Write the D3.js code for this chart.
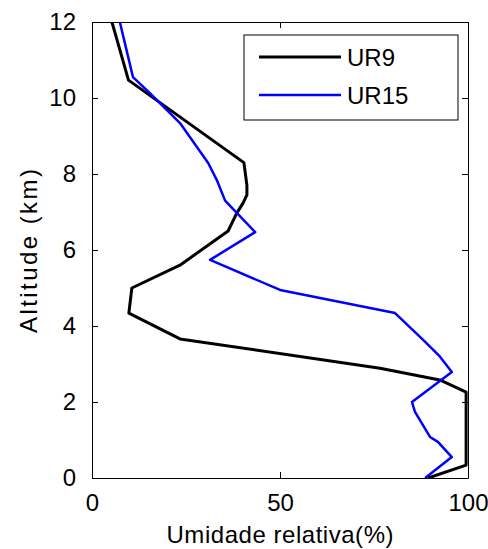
<!DOCTYPE html>
<html>
<head>
<meta charset="utf-8">
<script src="https://cdn.jsdelivr.net/npm/d3@7"></script>
<style>
  body { margin: 0; background: #fff; }
  text { font-family: "Liberation Sans", Arial, sans-serif; fill: #000; }
</style>
</head>
<body>
<div id="chart"></div>
<script>
var width = 488,
    height = 549;
var margin = {top: 22, right: 20, bottom: 71, left: 92};

// data: [umidade %, altitude km]
var seriesNames = ["UR9", "UR15"];
var seriesColors = ["#000000", "#0000ff"];
var ur9 = [[5.3, 12], [9.7, 10.47], [40.4, 8.3], [41.2, 7.7], [41.2, 7.45], [40.2, 7.24],
    [38.5, 6.97], [36.2, 6.5], [23.4, 5.6], [10.6, 5.0], [9.8, 4.34], [23.4, 3.66],
    [76.6, 2.89], [92.5, 2.58], [99.5, 2.26], [99.5, 0.34], [89.4, 0]];
var ur15 = [[7.4, 12], [10.9, 10.55], [15.4, 10.13], [23.4, 9.34], [30.9, 8.29], [33.2, 7.84],
    [35.4, 7.3], [43.4, 6.47], [31.4, 5.74], [50, 4.95], [80.6, 4.34], [88, 3.64],
    [92.5, 3.2], [95.7, 2.79], [85.1, 2.0], [85.9, 1.74], [89.9, 1.08], [92, 0.95],
    [95.7, 0.55], [88.6, 0]];
var xTicks = [0, 50, 100];
var yTicks = [0, 2, 4, 6, 8, 10, 12];

var svg = d3.select("#chart")
    .append("svg")
    .attr("width", width)
    .attr("height", height);

var x = d3.scaleLinear().domain([0, 100]).range([margin.left, width - margin.right]);
var y = d3.scaleLinear().domain([0, 12]).range([height - margin.bottom, margin.top]);

var tickLen = 6;

// lines (clipped to plot box)
svg.append("clipPath").attr("id", "clip")
    .append("rect")
    .attr("x", x(0)).attr("y", y(12))
    .attr("width", x(100) - x(0)).attr("height", y(0) - y(12));

var line = d3.line()
    .x(function(d) { return x(d[0]); })
    .y(function(d) { return y(d[1]); });

var series = [ur9, ur15];
series.forEach(function(s, i) {
    svg.append("path")
        .datum(s)
        .attr("clip-path", "url(#clip)")
        .attr("d", line)
        .attr("fill", "none")
        .attr("stroke", seriesColors[i])
        .attr("stroke-width", i == 0 ? 3 : 2.5)
        .attr("stroke-linejoin", "round");
});

// axes, MATLAB style: ticks inside on all four sides
var xAxis = svg.append("g")
    .attr("transform", "translate(0," + y(0) + ")")
    .call(d3.axisBottom(x).tickValues(xTicks).tickSizeInner(-tickLen).tickSizeOuter(0).tickPadding(16));
var xAxisTop = svg.append("g")
    .attr("transform", "translate(0," + y(12) + ")")
    .call(d3.axisTop(x).tickValues(xTicks).tickSizeInner(-tickLen).tickSizeOuter(0).tickFormat(""));
var yAxis = svg.append("g")
    .attr("transform", "translate(" + x(0) + ",0)")
    .call(d3.axisLeft(y).tickValues(yTicks).tickSizeInner(-tickLen).tickSizeOuter(0).tickPadding(16));
var yAxisRight = svg.append("g")
    .attr("transform", "translate(" + x(100) + ",0)")
    .call(d3.axisRight(y).tickValues(yTicks).tickSizeInner(-tickLen).tickSizeOuter(0).tickFormat(""));

svg.selectAll(".domain").attr("stroke", "#000").attr("stroke-width", 1);
svg.selectAll(".tick line").attr("stroke", "#000");
svg.selectAll(".tick text")
    .style("font-size", "24px")
    .style("font-family", "'Liberation Sans', Arial, sans-serif")
    .attr("fill", "#000");
xAxis.selectAll(".tick text").attr("dy", "0.72em");

// axis labels
svg.append("text")
    .attr("x", (x(0) + x(100)) / 2)
    .attr("y", 543)
    .attr("text-anchor", "middle")
    .attr("textLength", 227)
    .attr("lengthAdjust", "spacing")
    .style("font-size", "24px")
    .text("Umidade relativa(%)");

svg.append("text")
    .attr("transform", "translate(37," + (y(6) + 1) + ") rotate(-90)")
    .attr("text-anchor", "middle")
    .attr("textLength", 164)
    .attr("lengthAdjust", "spacing")
    .style("font-size", "24px")
    .text("Altitude (km)");

// legend
var legend = svg.append("g").attr("transform", "translate(244,35)");
legend.append("rect")
    .attr("width", 214)
    .attr("height", 85)
    .attr("fill", "#fff")
    .attr("stroke", "#000")
    .attr("stroke-width", 1);
seriesNames.forEach(function(name, i) {
    var ly = 22 + i * 38;
    legend.append("line")
        .attr("x1", 15).attr("x2", 97)
        .attr("y1", ly).attr("y2", ly)
        .attr("stroke", seriesColors[i])
        .attr("stroke-width", i == 0 ? 3 : 2.5);
    legend.append("text")
        .attr("x", 103)
        .attr("y", ly)
        .attr("dy", "0.36em")
        .style("font-size", "24px")
        .text(name);
});
</script>
</body>
</html>
